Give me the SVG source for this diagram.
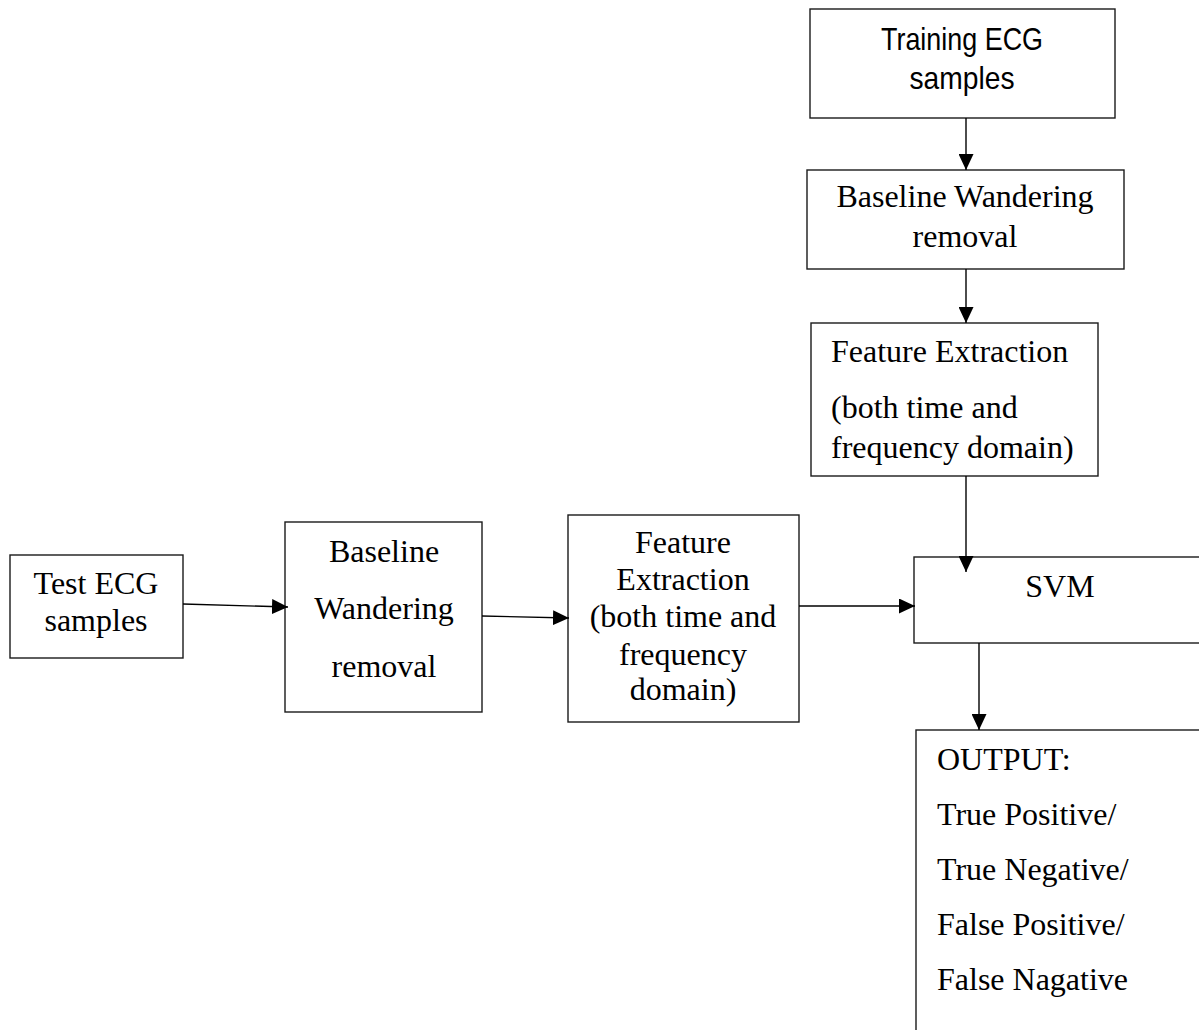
<svg xmlns="http://www.w3.org/2000/svg" width="1199" height="1030" viewBox="0 0 1199 1030">
<style>
.box{fill:#fff;stroke:#1a1a1a;stroke-width:1.4}
.t{font-family:"Liberation Serif","Times New Roman",serif;font-size:32px;fill:#000}
.c{text-anchor:middle}
.sans{font-family:"Liberation Sans Narrow","Liberation Sans",Arial,sans-serif;font-stretch:condensed;font-size:32px;fill:#000;text-anchor:middle}
.edge{stroke:#000;stroke-width:1.4;fill:none;marker-end:url(#ah)}
</style>
<defs>
<marker id="ah" markerUnits="userSpaceOnUse" markerWidth="16" markerHeight="15" refX="16" refY="7.5" orient="auto">
<path d="M0,0 L16,7.5 L0,15 z" fill="#000"/>
</marker>
</defs>
<rect width="1199" height="1030" fill="#fff"/>
<g id="training">
<rect class="box" x="810" y="9" width="305" height="109"/>
<text class="sans" x="962" y="50" textLength="162" lengthAdjust="spacingAndGlyphs">Training ECG</text>
<text class="sans" x="962" y="89" textLength="105" lengthAdjust="spacingAndGlyphs">samples</text>
</g>
<g id="bw-right">
<rect class="box" x="807" y="170" width="317" height="99"/>
<text class="t c" x="965" y="207">Baseline Wandering</text>
<text class="t c" x="965" y="247">removal</text>
</g>
<g id="fe-right">
<rect class="box" x="811" y="323" width="287" height="153"/>
<text class="t" x="831" y="362">Feature Extraction</text>
<text class="t" x="831" y="418">(both time and</text>
<text class="t" x="831" y="458">frequency domain)</text>
</g>
<g id="svm">
<rect class="box" x="914" y="557" width="300" height="86"/>
<text class="t c" x="1060" y="597">SVM</text>
</g>
<g id="output">
<rect class="box" x="916" y="730" width="300" height="320"/>
<text class="t" x="937" y="770">OUTPUT:</text>
<text class="t" x="937" y="825">True Positive/</text>
<text class="t" x="937" y="880">True Negative/</text>
<text class="t" x="937" y="935">False Positive/</text>
<text class="t" x="937" y="990">False Nagative</text>
</g>
<g id="test">
<rect class="box" x="10" y="555" width="173" height="103"/>
<text class="t c" x="96" y="594">Test ECG</text>
<text class="t c" x="96" y="631">samples</text>
</g>
<g id="bw-left">
<rect class="box" x="285" y="522" width="197" height="190"/>
<text class="t c" x="384" y="562">Baseline</text>
<text class="t c" x="384" y="619">Wandering</text>
<text class="t c" x="384" y="677">removal</text>
</g>
<g id="fe-mid">
<rect class="box" x="568" y="515" width="231" height="207"/>
<text class="t c" x="683" y="553">Feature</text>
<text class="t c" x="683" y="590">Extraction</text>
<text class="t c" x="683" y="627">(both time and</text>
<text class="t c" x="683" y="665">frequency</text>
<text class="t c" x="683" y="700">domain)</text>
</g>
<g id="connectors">
<line class="edge" x1="966" y1="118" x2="966" y2="170"/>
<line class="edge" x1="966" y1="269" x2="966" y2="323"/>
<line class="edge" x1="966" y1="476" x2="966" y2="572"/>
<line class="edge" x1="183" y1="604" x2="288" y2="607"/>
<line class="edge" x1="482" y1="616" x2="569" y2="618"/>
<line class="edge" x1="799" y1="606" x2="915" y2="606"/>
<line class="edge" x1="979" y1="643" x2="979" y2="730"/>
</g>
</svg>
